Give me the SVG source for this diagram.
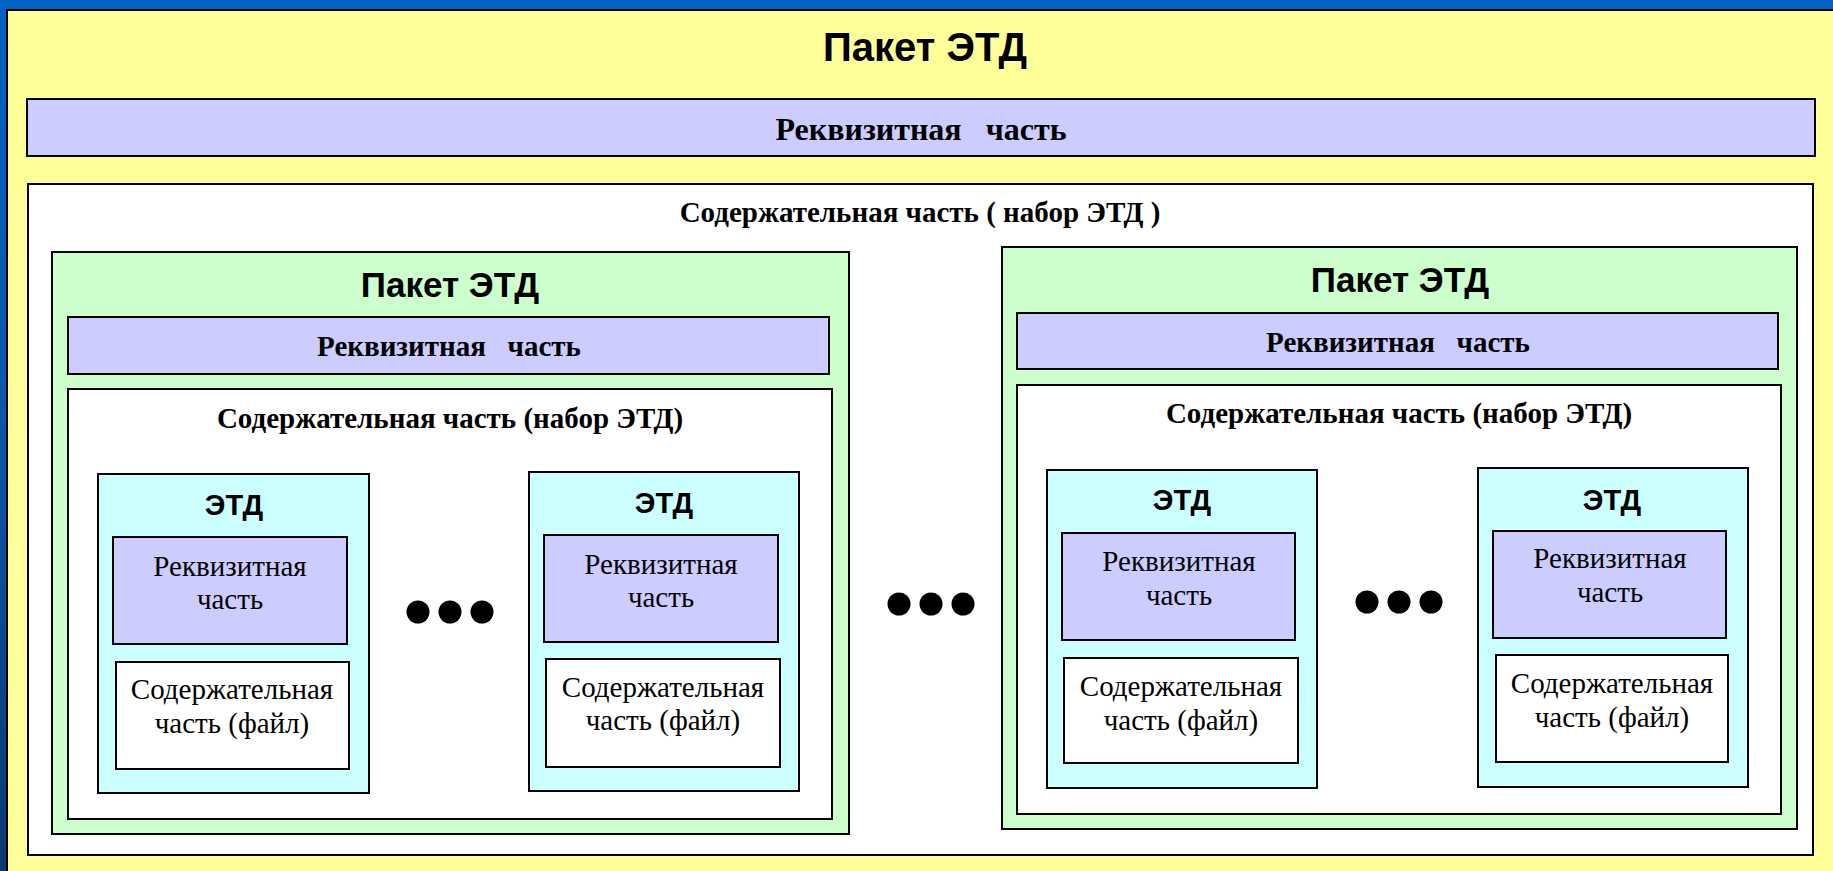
<svg xmlns="http://www.w3.org/2000/svg" width="1833" height="871" viewBox="0 0 1833 871">
<defs>
<linearGradient id="bg" x1="0" y1="0" x2="0" y2="1">
<stop offset="0" stop-color="#0062C4"/>
<stop offset="0.5" stop-color="#0B56A8"/>
<stop offset="1" stop-color="#0A3A74"/>
</linearGradient>
</defs>
<style>
.box{stroke:#000;stroke-width:2}
.yel{fill:#FFFF99}
.req{fill:#CCCCFF}
.wht{fill:#FFFFFF}
.grn{fill:#CCFFCC}
.cyn{fill:#CCFFFF}
.sans{font-family:"Liberation Sans",Arial,sans-serif;font-weight:bold;fill:#000;text-anchor:middle}
.serb{font-family:"Liberation Serif","Times New Roman",serif;font-weight:bold;fill:#000;text-anchor:middle}
.ser{font-family:"Liberation Serif","Times New Roman",serif;fill:#000;text-anchor:middle;font-size:29px}
.dot{fill:#000}
</style>
<rect x="0" y="0" width="1833" height="871" fill="url(#bg)"/>
<rect x="0" y="0" width="1833" height="10" fill="#0062C4"/>

<g id="outer-packet">
<rect class="box yel" x="7" y="10" width="1840" height="880"/>
<text class="sans" x="925" y="61" font-size="40">Пакет ЭТД</text>
</g>
<g id="outer-req">
<rect class="box req" x="27" y="99" width="1788" height="57"/>
<text class="serb" x="921" y="140" font-size="32" xml:space="preserve">Реквизитная   часть</text>
</g>
<g id="outer-content">
<rect class="box wht" x="28" y="184" width="1785" height="671"/>
<text class="serb" x="920" y="222" font-size="29" xml:space="preserve">Содержательная часть ( набор ЭТД )</text>
</g>

<g id="packet-left">
<rect class="box grn" x="52" y="252" width="797" height="582"/>
<text class="sans" x="450" y="297" font-size="35">Пакет ЭТД</text>
</g>
<g id="packet-left-req">
<rect class="box req" x="68" y="317" width="761" height="57"/>
<text class="serb" x="449" y="356" font-size="29" xml:space="preserve">Реквизитная   часть</text>
</g>
<g id="packet-left-content">
<rect class="box wht" x="68" y="389" width="764" height="430"/>
<text class="serb" x="450" y="428" font-size="29">Содержательная часть (набор ЭТД)</text>
</g>

<g id="etd-1">
<rect class="box cyn" x="98" y="474" width="271" height="319"/>
<text class="sans" x="234" y="515" font-size="29">ЭТД</text>
<rect class="box req" x="113" y="537" width="234" height="107"/>
<text class="ser" x="230" y="576">Реквизитная</text>
<text class="ser" x="230" y="609">часть</text>
<rect class="box wht" x="116" y="662" width="233" height="107"/>
<text class="ser" x="232" y="699">Содержательная</text>
<text class="ser" x="232" y="733">часть (файл)</text>
</g>

<g id="etd-2">
<rect class="box cyn" x="529" y="472" width="270" height="319"/>
<text class="sans" x="664" y="513" font-size="29">ЭТД</text>
<rect class="box req" x="544" y="535" width="234" height="107"/>
<text class="ser" x="661" y="574">Реквизитная</text>
<text class="ser" x="661" y="607">часть</text>
<rect class="box wht" x="546" y="659" width="234" height="108"/>
<text class="ser" x="663" y="697">Содержательная</text>
<text class="ser" x="663" y="730">часть (файл)</text>
</g>

<g id="packet-right">
<rect class="box grn" x="1002" y="247" width="795" height="582"/>
<text class="sans" x="1400" y="292" font-size="35">Пакет ЭТД</text>
</g>
<g id="packet-right-req">
<rect class="box req" x="1017" y="313" width="761" height="56"/>
<text class="serb" x="1398" y="352" font-size="29" xml:space="preserve">Реквизитная   часть</text>
</g>
<g id="packet-right-content">
<rect class="box wht" x="1017" y="385" width="764" height="429"/>
<text class="serb" x="1399" y="423" font-size="29">Содержательная часть (набор ЭТД)</text>
</g>

<g id="etd-3">
<rect class="box cyn" x="1047" y="470" width="270" height="318"/>
<text class="sans" x="1182" y="510" font-size="29">ЭТД</text>
<rect class="box req" x="1062" y="533" width="233" height="107"/>
<text class="ser" x="1179" y="571">Реквизитная</text>
<text class="ser" x="1179" y="605">часть</text>
<rect class="box wht" x="1064" y="658" width="234" height="105"/>
<text class="ser" x="1181" y="696">Содержательная</text>
<text class="ser" x="1181" y="730">часть (файл)</text>
</g>

<g id="etd-4">
<rect class="box cyn" x="1478" y="468" width="270" height="319"/>
<text class="sans" x="1612" y="510" font-size="29">ЭТД</text>
<rect class="box req" x="1493" y="531" width="233" height="107"/>
<text class="ser" x="1610" y="568">Реквизитная</text>
<text class="ser" x="1610" y="602">часть</text>
<rect class="box wht" x="1496" y="655" width="232" height="107"/>
<text class="ser" x="1612" y="693">Содержательная</text>
<text class="ser" x="1612" y="727">часть (файл)</text>
</g>

<g id="ellipsis">
<circle class="dot" cx="418" cy="612" r="11.5"/>
<circle class="dot" cx="450" cy="612" r="11.5"/>
<circle class="dot" cx="482" cy="612" r="11.5"/>
<circle class="dot" cx="899" cy="604" r="11.5"/>
<circle class="dot" cx="931" cy="604" r="11.5"/>
<circle class="dot" cx="963" cy="604" r="11.5"/>
<circle class="dot" cx="1367" cy="602" r="11.5"/>
<circle class="dot" cx="1399" cy="602" r="11.5"/>
<circle class="dot" cx="1431" cy="602" r="11.5"/>
</g>
<g id="connectors"></g>
</svg>
